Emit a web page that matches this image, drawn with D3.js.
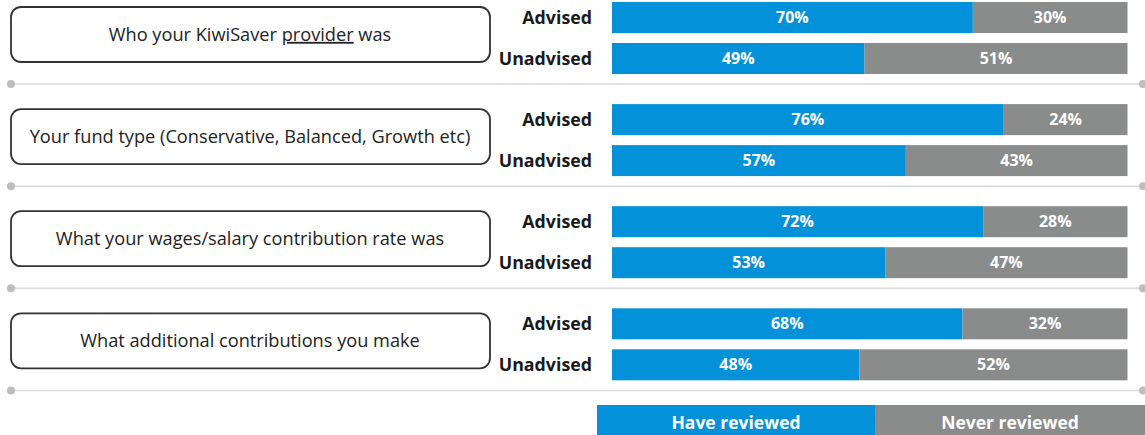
<!DOCTYPE html>
<html>
<head>
<meta charset="utf-8">
<script src="https://cdn.jsdelivr.net/npm/d3@7"></script>
<style>
  html, body { margin: 0; padding: 0; background: #fff; }
  svg { display: block; font-family: "Open Sans", sans-serif; }
</style>
</head>
<body>
<div class="chart"></div>
<script>
// data
const questions = [
  "Who your KiwiSaver provider was",
  "Your fund type (Conservative, Balanced, Growth etc)",
  "What your wages/salary contribution rate was",
  "What additional contributions you make"
];
const groups = ["Advised", "Unadvised"];
const reviewed = [[70, 49], [76, 57], [72, 53], [68, 48]];
const neverReviewed = [[30, 51], [24, 43], [28, 47], [32, 52]];
const legendLabels = ["Have reviewed", "Never reviewed"];

const width = 1145, height = 435;
const colors = ["#0392da", "#8a8c8c"];

const svg = d3.select(".chart").append("svg")
  .attr("width", width)
  .attr("height", height);

// one band per question, separator at the bottom of each band
const yQ = d3.scaleBand()
  .domain(questions)
  .range([-18, 390.4]);

// Advised / Unadvised inside a question band
const yG = d3.scaleBand()
  .domain(groups)
  .range([20, 92])
  .paddingInner(10 / 41)
  .paddingOuter(0);

const x = d3.scaleLinear().domain([0, 100]).range([612, 1127.5]);

const qg = svg.selectAll(".q")
  .data(questions)
  .join("g")
  .attr("class", "q")
  .attr("transform", d => `translate(0,${yQ(d)})`);

// label boxes
qg.append("rect")
  .attr("x", 11)
  .attr("y", 25)
  .attr("width", 479)
  .attr("height", 55)
  .attr("rx", 10)
  .attr("fill", "#fff")
  .attr("stroke", "#333")
  .attr("stroke-width", 1.8);

qg.append("text")
  .attr("x", 250)
  .attr("y", 52.5)
  .attr("dy", "0.35em")
  .attr("text-anchor", "middle")
  .attr("font-size", 18.2)
  .attr("fill", "#222")
  .each(function(d) {
    const t = d3.select(this);
    if (d.includes("provider")) {
      const parts = d.split("provider");
      t.append("tspan").text(parts[0]);
      t.append("tspan").attr("text-decoration", "underline").text("provider");
      t.append("tspan").text(parts[1]);
    } else {
      t.text(d);
    }
  });

// separators with end dots
const sepY = yQ.bandwidth();
qg.append("line")
  .attr("x1", 11).attr("x2", 1142)
  .attr("y1", sepY).attr("y2", sepY)
  .attr("stroke", "#d9d9d9")
  .attr("stroke-width", 1.5);
qg.append("circle").attr("cx", 11).attr("cy", sepY).attr("r", 4).attr("fill", "#bdbdbd");
qg.append("circle").attr("cx", 1143).attr("cy", sepY).attr("r", 4).attr("fill", "#bdbdbd");

// group rows
const rg = qg.selectAll(".row")
  .data((d, i) => groups.map((g, j) => ({ g, vals: [reviewed[i][j], neverReviewed[i][j]] })))
  .join("g")
  .attr("class", "row")
  .attr("transform", d => `translate(0,${yG(d.g)})`);

rg.append("text")
  .attr("x", 592)
  .attr("y", yG.bandwidth() / 2)
  .attr("dy", "0.35em")
  .attr("text-anchor", "end")
  .attr("font-size", 17.8)
  .attr("font-weight", "bold")
  .attr("fill", "#1a1a1a")
  .text(d => d.g);

const seg = rg.selectAll(".seg")
  .data(d => {
    let acc = 0;
    return d.vals.map((v, k) => { const s = { x0: acc, x1: acc + v, v, k }; acc += v; return s; });
  })
  .join("g")
  .attr("class", "seg");

seg.append("rect")
  .attr("x", d => x(d.x0))
  .attr("width", d => x(d.x1) - x(d.x0))
  .attr("y", 0)
  .attr("height", yG.bandwidth())
  .attr("fill", d => colors[d.k]);

seg.append("text")
  .attr("x", d => (x(d.x0) + x(d.x1)) / 2)
  .attr("y", yG.bandwidth() / 2)
  .attr("dy", "0.35em")
  .attr("text-anchor", "middle")
  .attr("font-size", 16)
  .attr("font-weight", "bold")
  .attr("fill", "#fff")
  .text(d => d.v + "%");

// legend
const xl = d3.scaleBand().domain(legendLabels).range([597, 1153]).padding(0);
const lg = svg.selectAll(".leg")
  .data(legendLabels)
  .join("g")
  .attr("class", "leg");
lg.append("rect")
  .attr("x", d => xl(d))
  .attr("y", 405)
  .attr("width", d => d === legendLabels[1] ? width - xl(d) : xl.bandwidth())
  .attr("height", 40)
  .attr("fill", (d, i) => colors[i]);
lg.append("text")
  .attr("x", (d, i) => i === 0 ? xl(d) + xl.bandwidth() / 2 : (xl(d) + width) / 2)
  .attr("y", 423)
  .attr("dy", "0.35em")
  .attr("text-anchor", "middle")
  .attr("font-size", 17.5)
  .attr("font-weight", "bold")
  .attr("fill", "#fff")
  .text(d => d);
</script>
</body>
</html>
